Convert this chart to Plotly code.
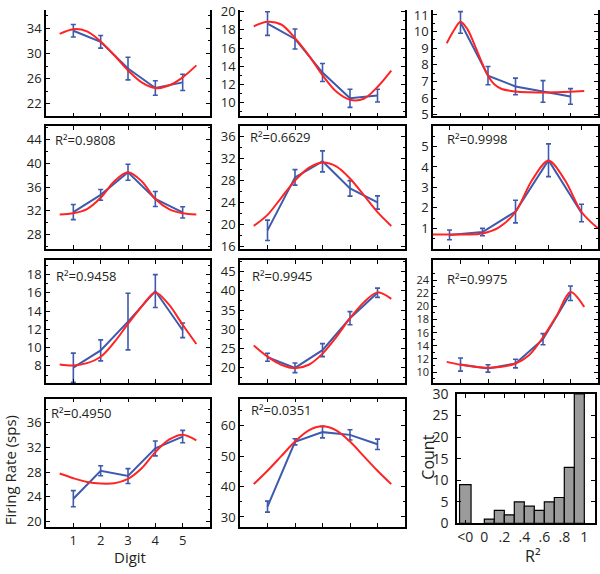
import plotly.graph_objects as go

W, H = 600, 574

# ---------------- data ----------------
digits = [1, 2, 3, 4, 5]
fit_x = [0.5, 1, 1.5, 2, 2.5, 3, 3.5, 4, 4.5, 5, 5.5]
fit_x_fine = [0.5, 0.75, 1, 1.25, 1.5, 1.75, 2, 2.25, 2.5, 3, 3.5, 4, 4.5, 5, 5.5]

mean_r1c1 = [33.6, 31.85, 27.6, 24.5, 25.4]
err_r1c1 = [1.0, 1.0, 1.8, 1.15, 1.3]
fit_r1c1 = [33.1, 33.85, 33.5, 31.9, 29.7, 27.3, 25.4, 24.5, 24.9, 26.2, 28.1]

mean_r1c2 = [18.7, 17.0, 13.3, 10.45, 10.75]
err_r1c2 = [1.3, 1.1, 1.0, 1.0, 0.7]
fit_r1c2 = [18.4, 18.9, 18.6, 17.1, 15.2, 13.0, 11.2, 10.3, 10.4, 11.7, 13.5]

mean_r1c3 = [10.55, 7.35, 6.7, 6.4, 6.1]
err_r1c3 = [0.65, 0.55, 0.5, 0.65, 0.47]
fit_r1c3 = [9.3, 10.05, 10.6, 10.15, 9.25, 8.25, 7.35, 6.8, 6.55, 6.4, 6.35, 6.33, 6.35, 6.38, 6.42]

mean_r2c1 = [31.8, 34.7, 38.5, 34.0, 31.75]
err_r2c1 = [1.27, 0.9, 1.35, 1.27, 0.95]
fit_r2c1 = [31.4, 31.6, 32.3, 34.2, 37.0, 38.5, 37.0, 34.0, 32.3, 31.6, 31.4]

mean_r2c2 = [19.0, 28.6, 31.5, 26.6, 24.05]
err_r2c2 = [1.85, 1.4, 1.9, 1.4, 1.2]
fit_r2c2 = [19.8, 21.8, 24.9, 28.0, 30.3, 31.3, 30.6, 28.4, 25.4, 22.3, 19.8]

mean_r2c3 = [0.68, 0.82, 1.82, 4.33, 1.75]
err_r2c3 = [0.24, 0.18, 0.55, 0.8, 0.43]
fit_r2c3 = [0.7, 0.7, 0.7, 0.75, 1.05, 1.8, 3.35, 4.3, 3.35, 1.8, 1.0]

mean_r3c1 = [7.8, 9.7, 12.85, 16.2, 11.9]
err_r3c1 = [1.6, 1.15, 3.1, 1.8, 0.8]
fit_r3c1 = [8.15, 8.05, 8.3, 9.0, 10.6, 12.6, 14.5, 16.05, 14.7, 12.5, 10.4]

mean_r3c2 = [22.75, 20.0, 24.6, 32.9, 39.5]
err_r3c2 = [1.05, 1.25, 1.7, 1.7, 1.2]
fit_r3c2 = [25.8, 22.9, 20.8, 19.9, 20.8, 23.7, 28.0, 32.9, 37.0, 39.6, 37.9]

mean_r3c3 = [11.15, 10.55, 11.3, 15.0, 22.0]
err_r3c3 = [1.0, 0.56, 0.66, 0.85, 1.1]
fit_r3c3 = [11.55, 11.1, 10.8, 10.65, 10.8, 11.3, 12.6, 15.3, 18.6, 22.2, 19.9]

mean_r4c1 = [23.7, 28.2, 27.35, 31.8, 33.7]
err_r4c1 = [1.3, 0.8, 1.2, 1.2, 1.0]
fit_r4c1 = [27.75, 27.0, 26.4, 26.15, 26.2, 26.9, 28.6, 31.2, 33.2, 34.0, 33.1]

mean_r4c2 = [33.4, 54.7, 57.9, 57.0, 53.9]
err_r4c2 = [1.8, 1.0, 1.9, 1.7, 1.7]
fit_r4c2 = [40.8, 45.2, 50.0, 54.8, 58.5, 59.8, 58.5, 54.8, 50.0, 45.2, 40.8]

r2_labels = ["", "", "", "0.9808", "0.6629", "0.9998", "0.9458", "0.9945",
             "0.9975", "0.4950", "0.0351"]

yticks_r1c1 = [22, 26, 30, 34]
yticks_r1c2 = [10, 12, 14, 16, 18, 20]
yticks_r1c3 = [5, 6, 7, 8, 9, 10, 11]
yticks_r2c1 = [28, 32, 36, 40, 44]
yticks_r2c2 = [16, 20, 24, 28, 32, 36]
yticks_r2c3 = [1, 2, 3, 4, 5]
yticks_r3c1 = [8, 10, 12, 14, 16, 18]
yticks_r3c2 = [20, 25, 30, 35, 40, 45]
yticks_r3c3 = [10, 12, 14, 16, 18, 20, 22, 24]
yticks_r4c1 = [20, 24, 28, 32, 36]
yticks_r4c2 = [30, 40, 50, 60]

hist_x = [-0.19, 0.05, 0.15, 0.25, 0.35, 0.45, 0.55, 0.65, 0.75, 0.85, 0.95]
hist_counts = [9, 1, 3, 2, 5, 4, 3, 5, 6, 13, 30]
hist_tickvals = [-0.19, 0, 0.2, 0.4, 0.6, 0.8, 1.0]
hist_ticktext = ["<0", "0", ".2", ".4", ".6", ".8", "1"]
hist_yticks = [0, 5, 10, 15, 20, 25, 30]

# ---------------- styling / layout ----------------
BLUE = "#3d5aad"
RED = "#ff2424"
FONT = "Open Sans"
TXT = "#231f20"

def px(p):
    return p / W

def py(p):
    return 1 - p / H

cols = [(46, 210), (240, 405), (433, 598)]
rows = [(0, 110), (120, 247), (259, 386), (402, 535)]

panels = [
    dict(r=0, c=0, m=mean_r1c1, e=err_r1c1, fx=fit_x, fy=fit_r1c1, yr=[20, 36.9], yt=yticks_r1c1, xr=[0, 6]),
    dict(r=0, c=1, m=mean_r1c2, e=err_r1c2, fx=fit_x, fy=fit_r1c2, yr=[8.46, 20.2], yt=yticks_r1c2, xr=[0, 6]),
    dict(r=0, c=2, m=mean_r1c3, e=err_r1c3, fx=fit_x_fine, fy=fit_r1c3, yr=[4.9, 11.3], yt=yticks_r1c3, xr=[0, 6]),
    dict(r=1, c=0, m=mean_r2c1, e=err_r2c1, fx=fit_x, fy=fit_r2c1, yr=[25.6, 46.3], yt=yticks_r2c1, xr=[0, 6]),
    dict(r=1, c=1, m=mean_r2c2, e=err_r2c2, fx=fit_x, fy=fit_r2c2, yr=[15.65, 37.9], yt=yticks_r2c2, xr=[0, 6]),
    dict(r=1, c=2, m=mean_r2c3, e=err_r2c3, fx=fit_x, fy=fit_r2c3, yr=[0, 6], yt=yticks_r2c3, xr=[0.5, 5.5]),
    dict(r=2, c=0, m=mean_r3c1, e=err_r3c1, fx=fit_x, fy=fit_r3c1, yr=[6.1, 19.55], yt=yticks_r3c1, xr=[0, 6]),
    dict(r=2, c=1, m=mean_r3c2, e=err_r3c2, fx=fit_x, fy=fit_r3c2, yr=[16, 47.9], yt=yticks_r3c2, xr=[0, 6]),
    dict(r=2, c=2, m=mean_r3c3, e=err_r3c3, fx=fit_x, fy=fit_r3c3, yr=[8.3, 27], yt=yticks_r3c3, xr=[0, 6], fs=11),
    dict(r=3, c=0, m=mean_r4c1, e=err_r4c1, fx=fit_x, fy=fit_r4c1, yr=[19.1, 39.8], yt=yticks_r4c1, xr=[0, 6]),
    dict(r=3, c=1, m=mean_r4c2, e=err_r4c2, fx=fit_x, fy=fit_r4c2, yr=[26.6, 68.9], yt=yticks_r4c2, xr=[0, 6]),
]

# R² label positions (pixel left, pixel center-y)
r2_pos = [None, None, None, (53, 134), (248, 131), (445, 133),
          (54, 275), (250, 275), (445, 278), (49, 417), (249, 414)]

fig = go.Figure()
layout = dict(
    width=W, height=H, margin=dict(l=0, r=0, t=0, b=0),
    paper_bgcolor="white", plot_bgcolor="white", showlegend=False,
    font=dict(family=FONT, color=TXT, size=13),
)
annotations = []

for i, p in enumerate(panels, start=1):
    xa = "x" if i == 1 else f"x{i}"
    ya = "y" if i == 1 else f"y{i}"
    fig.add_trace(go.Scatter(
        x=digits, y=p["m"], mode="lines",
        line=dict(color=BLUE, width=2),
        error_y=dict(type="data", array=p["e"], color=BLUE, thickness=1.6, width=2.5),
        xaxis=xa, yaxis=ya, hoverinfo="skip"))
    fig.add_trace(go.Scatter(
        x=p["fx"], y=p["fy"], mode="lines",
        line=dict(color=RED, width=2, shape="spline", smoothing=0.9),
        xaxis=xa, yaxis=ya, hoverinfo="skip"))
    c0, c1 = cols[p["c"]]
    r0, r1 = rows[p["r"]]
    yt = p["yt"]
    step = yt[1] - yt[0]
    minor_vals = [v + step / 2 for v in [yt[0] - step] + yt]
    layout["xaxis" + ("" if i == 1 else str(i))] = dict(
        domain=[px(c0), px(c1)], range=p["xr"], anchor=ya,
        tickmode="array", tickvals=digits, ticks="inside", ticklen=4, tickwidth=1,
        tickcolor="black", showline=True, linecolor="black", linewidth=1.6,
        mirror=False if p["r"] == 0 else "allticks",
        showticklabels=(i == 10), showgrid=False, zeroline=False,
        tickfont=dict(family=FONT, size=13, color=TXT),
    )
    layout["yaxis" + ("" if i == 1 else str(i))] = dict(
        domain=[py(r1), py(r0)], range=p["yr"], anchor=xa,
        tickmode="array", tickvals=yt, ticks="inside", ticklen=4, tickwidth=1,
        tickcolor="black", showline=True, linecolor="black", linewidth=1.6,
        mirror="allticks", showgrid=False, zeroline=False,
        minor=dict(tickmode="array", tickvals=minor_vals, ticks="inside",
                   ticklen=2.5, tickwidth=1, tickcolor="black", showgrid=False),
        tickfont=dict(family=FONT, size=p.get("fs", 13), color=TXT),
    )
    if r2_labels[i - 1]:
        lx, ly = r2_pos[i - 1]
        annotations.append(dict(
            text="R²=" + r2_labels[i - 1], x=px(lx), y=py(ly), xref="paper", yref="paper",
            xanchor="left", yanchor="middle", showarrow=False,
            font=dict(family=FONT, size=13, color=TXT)))

# histogram panel
hist_w = [0.115] + [0.1] * (len(hist_x) - 1)
fig.add_trace(go.Bar(
    x=hist_x, y=hist_counts, width=hist_w,
    marker=dict(color="#9b9b9b", line=dict(color="black", width=1.2)),
    xaxis="x12", yaxis="y12", hoverinfo="skip"))
layout["xaxis12"] = dict(
    domain=[px(457), px(595)], range=[-0.273, 1.107], anchor="y12",
    tickmode="array", tickvals=hist_tickvals, ticktext=hist_ticktext,
    ticks="inside", ticklen=4, tickwidth=1, tickcolor="black",
    showline=True, linecolor="black", linewidth=1.6, mirror="allticks",
    showgrid=False, zeroline=False,
    tickfont=dict(family=FONT, size=14, color=TXT),
)
layout["yaxis12"] = dict(
    domain=[py(531), py(397)], range=[0, 30], anchor="x12",
    tickmode="array", tickvals=hist_yticks, ticks="inside", ticklen=4, tickwidth=1,
    tickcolor="black", showline=True, linecolor="black", linewidth=1.6, mirror="allticks",
    showgrid=False, zeroline=False, ticklabelstandoff=4,
    tickfont=dict(family=FONT, size=14, color=TXT),
)

# axis titles
annotations += [
    dict(text="Firing Rate (sps)", x=px(10), y=py(476), textangle=-90,
         xanchor="center", yanchor="middle", showarrow=False,
         xref="paper", yref="paper", font=dict(family=FONT, size=15, color=TXT)),
    dict(text="Digit", x=px(130), y=py(566), xanchor="center", yanchor="middle",
         showarrow=False, xref="paper", yref="paper", font=dict(family=FONT, size=15, color=TXT)),
    dict(text="Count", x=px(428), y=py(463), textangle=-90, xanchor="center",
         yanchor="middle", showarrow=False, xref="paper", yref="paper",
         font=dict(family=FONT, size=16, color=TXT)),
    dict(text="R²", x=px(532), y=py(565), xanchor="center", yanchor="middle",
         showarrow=False, xref="paper", yref="paper", font=dict(family=FONT, size=16, color=TXT)),
]
layout["annotations"] = annotations
fig.update_layout(**layout)
fig.write_html(
    "out.html",
    config={"displayModeBar": False},
    post_script="document.body.style.margin='0';document.body.style.padding='0';",
)
